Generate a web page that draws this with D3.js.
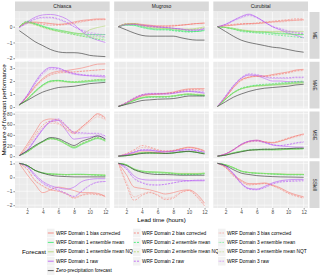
<!DOCTYPE html>
<html><head><meta charset="utf-8">
<script src="https://cdn.jsdelivr.net/npm/d3@7"></script>
<style>body{margin:0;background:#fff}svg{display:block;font-family:"Liberation Sans",Arial,Helvetica,sans-serif}</style>
</head><body><svg id="c" width="320" height="276"></svg>
<script>
// ---------- data ----------
const hours = [1,2,3,4,5,6,7,8,9,10,11,12];
const basins = ["Chiasca","Mugroso","Curubital"];
const metrics = ["ME","MAE","MSE","SSkill"];
const seriesLabels = [
 "WRF Domain 1 bias corrected","WRF Domain 1 ensemble mean","WRF Domain 1 ensemble mean NQT","WRF Domain 1 raw",
 "WRF Domain 2 bias corrected","WRF Domain 2 ensemble mean","WRF Domain 2 ensemble mean NQT","WRF Domain 2 raw",
 "WRF Domain 3 bias corrected","WRF Domain 3 ensemble mean","WRF Domain 3 ensemble mean NQT","WRF Domain 3 raw",
 "Zero-precipitation forecast"];
const seriesTypes = ["bc","em","nqt","raw","bc","em","nqt","raw","bc","em","nqt","raw","zero"];
const seriesDomains = [1,1,1,1,2,2,2,2,3,3,3,3,0];
const ticksME = [-2,-1,0];
const ticksMAE = [0,1,2,3];
const ticksMSE = [0,20,40,60,80];
const ticksSSkill = [-2,-1,0,1];
const xTicks = [2,4,6,8,10,12];

// rows: bc1, em1, nqt1, raw1, bc2, em2, nqt2, raw2, bc3, em3, nqt3, raw3, zero
const ME_Chiasca = [
 [0.0,0.25,0.3,0.25,0.2,0.15,0.2,0.3,0.4,0.45,0.5,0.5],
 [0.0,0.3,0.2,0.05,-0.1,-0.2,-0.3,-0.4,-0.45,-0.5,-0.5,-0.5],
 [0.0,0.3,0.15,0.0,-0.15,-0.25,-0.3,-0.4,-0.45,-0.2,-0.05,0.05],
 [-0.05,0.3,0.6,0.75,0.78,0.7,0.5,0.15,-0.3,-0.65,-0.85,-1.0],
 [0.0,0.3,0.25,0.15,0.1,0.1,0.15,0.25,0.35,0.4,0.45,0.45],
 [0.0,0.35,0.2,0.0,-0.15,-0.3,-0.4,-0.5,-0.6,-0.7,-0.8,-0.85],
 [0.0,0.3,0.15,-0.05,-0.2,-0.3,-0.4,-0.5,-0.6,-0.65,-0.75,-0.8],
 [-0.05,0.25,0.5,0.6,0.6,0.5,0.3,0.0,-0.25,-0.45,-0.55,-0.65],
 [0.0,0.2,0.25,0.25,0.2,0.15,0.15,0.2,0.3,0.4,0.45,0.45],
 [0.0,0.25,0.15,0.0,-0.15,-0.25,-0.35,-0.45,-0.55,-0.6,-0.65,-0.7],
 [0.0,0.25,0.1,-0.05,-0.2,-0.3,-0.35,-0.45,-0.5,-0.55,-0.6,-0.6],
 [-0.05,0.2,0.45,0.55,0.55,0.45,0.25,0.0,-0.2,-0.35,-0.45,-0.5],
 [-0.25,-0.6,-0.95,-1.2,-1.45,-1.6,-1.65,-1.65,-1.7,-1.82,-1.87,-1.9]];
const ME_Mugroso = [
 [0.0,0.15,0.2,0.15,0.1,0.05,0.05,0.05,0.1,0.15,0.2,0.25],
 [0.0,0.1,0.1,0.0,-0.1,-0.15,-0.15,-0.2,-0.25,-0.3,-0.3,-0.2],
 [0.0,0.15,0.2,0.1,0.0,-0.05,-0.1,-0.1,-0.15,-0.15,-0.1,0.0],
 [0.0,0.15,0.15,0.1,0.05,0.0,-0.05,-0.1,-0.15,-0.2,-0.2,-0.1],
 [0.0,0.2,0.2,0.1,0.05,0.0,0.0,0.05,0.1,0.15,0.2,0.2],
 [0.0,0.15,0.1,-0.05,-0.15,-0.2,-0.2,-0.25,-0.3,-0.35,-0.3,-0.25],
 [0.0,0.2,0.2,0.05,-0.05,-0.1,-0.1,-0.15,-0.2,-0.2,-0.15,-0.05],
 [0.0,0.15,0.15,0.05,0.0,-0.05,-0.05,-0.1,-0.15,-0.25,-0.25,-0.15],
 [0.0,0.15,0.15,0.1,0.05,0.05,0.05,0.1,0.1,0.15,0.2,0.2],
 [0.0,0.1,0.05,-0.05,-0.15,-0.2,-0.2,-0.25,-0.3,-0.3,-0.3,-0.25],
 [0.0,0.15,0.15,0.05,-0.05,-0.1,-0.1,-0.15,-0.2,-0.2,-0.15,-0.1],
 [0.0,0.1,0.15,0.1,0.05,0.0,-0.05,-0.1,-0.15,-0.2,-0.2,-0.15],
 [0.0,-0.2,-0.4,-0.55,-0.6,-0.6,-0.6,-0.6,-0.7,-0.8,-0.85,-0.85]];
const ME_Curubital = [
 [0.0,0.05,0.1,0.15,0.2,0.2,0.25,0.3,0.35,0.4,0.42,0.45],
 [0.0,-0.05,-0.15,-0.25,-0.3,-0.35,-0.35,-0.4,-0.45,-0.45,-0.5,-0.5],
 [0.0,-0.05,-0.1,-0.2,-0.25,-0.3,-0.3,-0.3,-0.3,-0.3,-0.3,-0.3],
 [0.0,0.15,0.4,0.65,0.8,0.6,0.3,0.0,-0.2,-0.4,-0.55,-0.7],
 [0.0,0.1,0.15,0.2,0.2,0.25,0.3,0.35,0.4,0.45,0.5,0.5],
 [0.0,-0.05,-0.15,-0.3,-0.35,-0.4,-0.45,-0.5,-0.55,-0.6,-0.65,-0.7],
 [0.0,-0.05,-0.15,-0.25,-0.3,-0.35,-0.35,-0.4,-0.45,-0.5,-0.5,-0.5],
 [0.0,0.15,0.4,0.6,0.75,0.6,0.3,0.0,-0.15,-0.3,-0.4,-0.45],
 [0.0,0.05,0.1,0.15,0.15,0.2,0.25,0.3,0.3,0.35,0.4,0.4],
 [0.0,-0.05,-0.1,-0.2,-0.3,-0.3,-0.35,-0.4,-0.4,-0.45,-0.5,-0.5],
 [0.0,-0.05,-0.1,-0.2,-0.25,-0.3,-0.3,-0.35,-0.35,-0.4,-0.4,-0.4],
 [0.0,0.1,0.35,0.55,0.7,0.55,0.3,0.05,-0.1,-0.25,-0.35,-0.4],
 [0.0,-0.3,-0.6,-0.85,-1.0,-1.1,-1.2,-1.3,-1.35,-1.45,-1.55,-1.62]];

const MAE_Chiasca = [
 [0.15,0.8,1.6,2.2,2.6,2.75,2.8,2.9,3.0,3.15,3.3,3.32],
 [0.15,0.6,1.2,1.7,2.0,2.05,1.95,1.9,1.9,1.95,2.0,2.0],
 [0.15,0.6,1.2,1.7,2.0,2.05,1.95,1.9,1.95,2.0,2.1,2.15],
 [0.15,0.9,1.9,2.7,3.05,3.0,2.75,2.55,2.45,2.4,2.35,2.3],
 [0.15,0.8,1.5,2.1,2.5,2.65,2.7,2.7,2.75,2.8,2.85,2.9],
 [0.15,0.6,1.2,1.7,2.0,2.05,2.0,1.95,2.0,2.05,2.1,2.1],
 [0.15,0.6,1.15,1.65,1.95,2.0,1.95,1.95,2.0,2.05,2.1,2.1],
 [0.15,0.9,1.8,2.6,3.0,2.95,2.75,2.6,2.5,2.45,2.45,2.4],
 [0.15,0.75,1.5,2.1,2.45,2.6,2.65,2.7,2.75,2.8,2.85,2.9],
 [0.15,0.55,1.15,1.65,1.95,2.0,1.95,1.9,1.95,2.0,2.05,2.05],
 [0.15,0.55,1.1,1.6,1.9,1.95,1.9,1.9,1.95,2.0,2.05,2.05],
 [0.15,0.85,1.75,2.5,2.9,2.85,2.65,2.5,2.45,2.4,2.4,2.35],
 [0.2,0.5,0.85,1.15,1.35,1.5,1.55,1.6,1.7,1.8,1.85,1.9]];
const MAE_Mugroso = [
 [0.05,0.3,0.6,0.85,0.95,1.0,1.05,1.15,1.3,1.4,1.42,1.42],
 [0.05,0.25,0.5,0.7,0.8,0.8,0.8,0.85,0.95,1.0,0.95,0.9],
 [0.05,0.25,0.5,0.7,0.8,0.8,0.8,0.85,0.95,1.0,0.95,0.9],
 [0.05,0.3,0.65,0.9,1.0,1.0,1.0,1.05,1.15,1.2,1.15,1.05],
 [0.05,0.35,0.7,0.95,1.0,1.0,1.05,1.1,1.25,1.35,1.35,1.3],
 [0.05,0.25,0.5,0.7,0.75,0.75,0.75,0.8,0.9,0.95,0.9,0.85],
 [0.05,0.25,0.55,0.75,0.8,0.8,0.8,0.85,0.95,1.0,1.0,0.95],
 [0.05,0.35,0.7,0.95,1.05,1.05,1.05,1.1,1.2,1.25,1.2,1.15],
 [0.05,0.3,0.6,0.85,0.95,1.0,1.0,1.1,1.2,1.3,1.3,1.3],
 [0.05,0.25,0.5,0.7,0.75,0.8,0.8,0.85,0.9,0.95,0.9,0.9],
 [0.05,0.25,0.5,0.7,0.8,0.8,0.8,0.85,0.95,1.0,0.95,0.9],
 [0.05,0.3,0.65,0.9,1.0,1.0,1.0,1.05,1.15,1.2,1.15,1.1],
 [0.05,0.2,0.35,0.5,0.55,0.6,0.62,0.65,0.75,0.85,0.85,0.85]];
const MAE_Curubital = [
 [0.05,0.7,1.5,2.1,2.3,2.4,2.4,2.5,2.6,2.7,2.85,2.9],
 [0.05,0.6,1.1,1.4,1.55,1.65,1.65,1.7,1.75,1.8,1.85,1.9],
 [0.05,0.6,1.1,1.4,1.55,1.6,1.65,1.7,1.7,1.75,1.8,1.85],
 [0.05,0.8,1.6,2.2,2.45,2.4,2.2,2.0,2.0,1.95,1.95,1.95],
 [0.05,0.75,1.5,2.05,2.3,2.35,2.35,2.45,2.55,2.65,2.8,2.85],
 [0.05,0.6,1.1,1.45,1.6,1.7,1.75,1.8,1.85,1.9,1.95,2.0],
 [0.05,0.6,1.1,1.4,1.55,1.65,1.7,1.75,1.8,1.85,1.9,1.95],
 [0.05,0.85,1.65,2.25,2.55,2.5,2.35,2.25,2.25,2.25,2.3,2.3],
 [0.05,0.7,1.45,2.0,2.25,2.35,2.35,2.4,2.5,2.6,2.75,2.8],
 [0.05,0.6,1.05,1.4,1.55,1.65,1.7,1.75,1.8,1.85,1.9,1.95],
 [0.05,0.6,1.05,1.4,1.55,1.6,1.65,1.7,1.75,1.8,1.85,1.9],
 [0.05,0.8,1.6,2.2,2.5,2.45,2.3,2.2,2.2,2.2,2.25,2.25],
 [0.05,0.4,0.75,1.0,1.2,1.35,1.45,1.5,1.55,1.6,1.7,1.75]];

const MSE_Chiasca = [
 [1,22,45,66,70,68,56,45,55,67,80,72],
 [1,8,18,27,33,30,22,15,22,28,33,28],
 [1,8,18,27,33,30,22,16,23,29,34,29],
 [1,10,30,50,65,67,48,32,34,36,38,33],
 [1,18,40,58,66,62,52,43,55,68,78,70],
 [1,8,19,28,34,31,24,17,24,30,35,30],
 [1,8,18,27,33,31,23,17,24,30,35,30],
 [1,12,32,52,66,70,58,45,44,43,43,38],
 [1,16,36,54,62,60,50,42,52,64,74,68],
 [1,8,18,27,32,30,23,17,23,29,34,29],
 [1,8,18,27,32,30,23,17,23,29,33,28],
 [1,11,30,50,64,68,56,43,42,42,41,37],
 [1,10,20,28,35,33,26,20,28,33,38,32]];
const MSE_Mugroso = [
 [0,2,5,8,8,7,8,10,14,17,15,10],
 [0,1,3,6,6,5,5,6,8,9,7,5],
 [0,1,3,6,6,5,5,6,8,9,7,5],
 [0,3,7,11,11,9,8,9,11,12,10,7],
 [0,5,12,20,17,12,10,11,14,16,14,10],
 [0,1,3,6,6,5,5,6,8,9,7,5],
 [0,1,4,6,6,5,5,6,8,9,8,5],
 [0,3,8,12,12,10,9,10,12,13,11,8],
 [0,4,10,16,15,11,9,10,13,16,14,9],
 [0,1,3,6,6,5,5,6,7,8,7,5],
 [0,1,3,6,6,5,5,6,8,9,7,5],
 [0,3,7,11,11,9,8,9,11,12,10,7],
 [0,1,3,5,6,6,5,6,8,9,7,4]];
const MSE_Curubital = [
 [0,4,12,22,28,30,27,25,28,33,38,42],
 [0,2,6,9,11,12,12,12,12,13,13,14],
 [0,2,6,9,11,12,12,12,12,13,13,14],
 [0,4,12,22,28,30,26,21,19,18,17,17],
 [0,4,12,21,27,29,27,26,29,34,38,41],
 [0,2,6,9,12,13,13,13,13,14,14,15],
 [0,2,6,9,11,12,13,13,13,14,14,15],
 [0,4,12,22,28,29,26,22,20,22,25,27],
 [0,4,11,20,26,28,26,25,28,32,36,40],
 [0,2,6,9,11,12,12,12,13,13,14,14],
 [0,2,6,9,11,12,12,12,12,13,13,14],
 [0,4,11,21,27,28,25,21,20,21,24,26],
 [0,2,5,8,11,12,13,13,14,14,15,15]];

const SSkill_Chiasca = [
 [1.0,0.2,-0.5,-1.1,-0.9,-0.7,-0.8,-0.95,-1.1,-1.1,-1.15,-1.4],
 [1.0,0.85,0.5,0.32,0.25,0.22,0.2,0.22,0.22,0.2,0.18,0.15],
 [1.0,0.85,0.5,0.32,0.25,0.22,0.2,0.2,0.2,0.2,0.18,0.18],
 [1.0,0.8,0.2,-0.3,-0.6,-0.75,-0.85,-0.7,-0.3,-0.15,-0.1,-0.1],
 [1.0,0.6,-0.2,-0.6,-0.9,-1.0,-1.2,-1.5,-1.3,-1.2,-1.25,-1.35],
 [1.0,0.85,0.5,0.3,0.22,0.2,0.18,0.2,0.2,0.18,0.15,0.12],
 [1.0,0.85,0.5,0.3,0.22,0.2,0.18,0.2,0.2,0.18,0.15,0.12],
 [1.0,0.75,0.1,-0.4,-0.7,-0.9,-1.15,-1.4,-1.0,-0.6,-0.35,-0.3],
 [1.0,0.55,-0.25,-0.65,-0.9,-1.0,-1.15,-1.45,-1.25,-1.15,-1.2,-1.3],
 [1.0,0.85,0.5,0.3,0.24,0.21,0.19,0.21,0.21,0.19,0.16,0.14],
 [1.0,0.85,0.5,0.31,0.24,0.21,0.19,0.2,0.2,0.19,0.17,0.15],
 [1.0,0.75,0.1,-0.45,-0.75,-0.95,-1.2,-1.35,-0.95,-0.55,-0.35,-0.3],
 [1.0,0.85,0.5,0.3,0.15,0.08,0.05,0.03,0.03,0.03,0.03,0.03]];
const SSkill_Mugroso = [
 [1.0,0.2,-0.7,-0.8,-0.9,-1.05,-1.2,-1.1,-0.95,-0.9,-1.2,-1.85],
 [1.0,0.9,0.6,0.45,0.4,0.38,0.35,0.3,0.25,0.25,0.25,0.3],
 [1.0,0.9,0.6,0.45,0.4,0.38,0.35,0.3,0.28,0.28,0.28,0.3],
 [1.0,0.7,0.1,-0.15,-0.2,-0.2,-0.2,-0.2,-0.2,-0.25,-0.25,-0.25],
 [1.0,-0.5,-1.65,-1.3,-1.1,-1.3,-1.6,-1.5,-1.1,-0.95,-1.4,-2.05],
 [1.0,0.9,0.55,0.4,0.35,0.3,0.3,0.25,0.2,0.2,0.2,0.25],
 [1.0,0.9,0.55,0.4,0.35,0.35,0.3,0.28,0.25,0.25,0.25,0.28],
 [1.0,0.6,-0.1,-0.4,-0.55,-0.55,-0.5,-0.4,-0.3,-0.25,-0.2,-0.2],
 [1.0,-0.3,-1.4,-1.2,-1.05,-1.25,-1.5,-1.4,-1.05,-0.95,-1.3,-1.95],
 [1.0,0.9,0.55,0.42,0.37,0.33,0.32,0.27,0.22,0.22,0.22,0.27],
 [1.0,0.9,0.57,0.42,0.37,0.35,0.32,0.28,0.26,0.26,0.26,0.29],
 [1.0,0.6,-0.05,-0.35,-0.5,-0.55,-0.5,-0.4,-0.3,-0.25,-0.22,-0.2],
 [1.0,0.85,0.55,0.35,0.25,0.2,0.2,0.18,0.15,0.15,0.15,0.15]];
const SSkill_Curubital = [
 [1.0,0.75,0.2,-0.2,-0.45,-0.45,-0.4,-0.55,-0.75,-1.05,-1.25,-1.4],
 [1.0,0.9,0.7,0.45,0.35,0.3,0.28,0.25,0.22,0.2,0.2,0.2],
 [1.0,0.9,0.7,0.45,0.35,0.3,0.28,0.25,0.25,0.22,0.22,0.22],
 [1.0,0.8,0.3,-0.4,-0.8,-0.85,-0.65,-0.4,-0.25,-0.18,-0.15,-0.15],
 [1.0,0.7,0.1,-0.3,-0.55,-0.5,-0.45,-0.6,-0.85,-1.15,-1.35,-1.5],
 [1.0,0.9,0.68,0.43,0.33,0.28,0.26,0.23,0.2,0.18,0.18,0.18],
 [1.0,0.9,0.69,0.44,0.34,0.29,0.27,0.24,0.23,0.21,0.21,0.2],
 [1.0,0.8,0.25,-0.45,-0.85,-0.9,-0.75,-0.5,-0.35,-0.3,-0.28,-0.25],
 [1.0,0.7,0.15,-0.25,-0.5,-0.5,-0.45,-0.6,-0.8,-1.1,-1.3,-1.45],
 [1.0,0.9,0.69,0.44,0.34,0.29,0.27,0.24,0.21,0.19,0.19,0.19],
 [1.0,0.9,0.7,0.45,0.35,0.3,0.27,0.25,0.24,0.21,0.21,0.21],
 [1.0,0.8,0.25,-0.45,-0.8,-0.85,-0.7,-0.45,-0.3,-0.25,-0.22,-0.2],
 [1.0,0.85,0.55,0.3,0.2,0.12,0.08,0.05,0.03,0.02,0.01,0.0]];

// ---------- assembly ----------
const panelData = {
 ME:[ME_Chiasca,ME_Mugroso,ME_Curubital],
 MAE:[MAE_Chiasca,MAE_Mugroso,MAE_Curubital],
 MSE:[MSE_Chiasca,MSE_Mugroso,MSE_Curubital],
 SSkill:[SSkill_Chiasca,SSkill_Mugroso,SSkill_Curubital]};
const rowTicks = {ME:ticksME,MAE:ticksMAE,MSE:ticksMSE,SSkill:ticksSSkill};

const typeColor = {bc:"#F8766D",em:"#2CEB66",nqt:"#ADD66A",raw:"#B552F5",zero:"#333333"};
const domainDash = {0:null,1:null,2:"2,1.2",3:"0.6,0.9"};

const svg = d3.select("#c");
const L = 15, R = 308, T = 12, B = 208, gapX = 4.5, gapY = 3;
const colW = (R - L - 2*gapX)/3, rowH = (B - T - 3*gapY)/4;
const fs = 4.8;

// top strips
basins.forEach((b,ci)=>{
  const x0 = L + ci*(colW+gapX);
  svg.append("rect").attr("x",x0).attr("y",1.5).attr("width",colW).attr("height",10).attr("fill","#D9D9D9");
  svg.append("text").attr("x",x0+colW/2).attr("y",6.5).attr("dy","0.35em").attr("text-anchor","middle")
    .attr("font-size",5).attr("fill","#1A1A1A").text(b);
});

metrics.forEach((m,ri)=>{
  const y0 = T + ri*(rowH+gapY), y1 = y0 + rowH;
  const all = panelData[m].flat(2);
  const ext = d3.extent(all), pad = (ext[1]-ext[0])*0.05;
  const y = d3.scaleLinear().domain([ext[0]-pad, ext[1]+pad]).range([y1,y0]);
  const tks = rowTicks[m];
  const step = tks[1]-tks[0];
  const minors = [];
  [tks[0]-step].concat(tks).forEach(t=>{const v=t+step/2; if(v>y.domain()[0]&&v<y.domain()[1]) minors.push(v);});

  // right strip
  svg.append("rect").attr("x",R+1.5).attr("y",y0).attr("width",10).attr("height",rowH).attr("fill","#D9D9D9");
  svg.append("text").attr("transform",`translate(${R+6.5},${(y0+y1)/2}) rotate(90)`).attr("dy","0.35em")
    .attr("text-anchor","middle").attr("font-size",5).attr("fill","#1A1A1A").text(m);

  basins.forEach((b,ci)=>{
    const x0 = L + ci*(colW+gapX);
    const x = d3.scaleLinear().domain([0.45,12.55]).range([x0,x0+colW]);
    const g = svg.append("g");
    g.append("rect").attr("x",x0).attr("y",y0).attr("width",colW).attr("height",rowH).attr("fill","#EBEBEB");
    // minor grid
    minors.forEach(v=>g.append("line").attr("x1",x0).attr("x2",x0+colW).attr("y1",y(v)).attr("y2",y(v)).attr("stroke","#fff").attr("stroke-width",0.3));
    [1,3,5,7,9,11].forEach(h=>g.append("line").attr("x1",x(h)).attr("x2",x(h)).attr("y1",y0).attr("y2",y1).attr("stroke","#fff").attr("stroke-width",0.3));
    // major grid
    tks.forEach(v=>g.append("line").attr("x1",x0).attr("x2",x0+colW).attr("y1",y(v)).attr("y2",y(v)).attr("stroke","#fff").attr("stroke-width",0.6));
    xTicks.forEach(h=>g.append("line").attr("x1",x(h)).attr("x2",x(h)).attr("y1",y0).attr("y2",y1).attr("stroke","#fff").attr("stroke-width",0.6));

    const line = d3.line().x((d,i)=>x(hours[i])).y(d=>y(d)).curve(d3.curveMonotoneX);
    panelData[m][ci].forEach((vals,si)=>{
      g.append("path").attr("d",line(vals)).attr("fill","none")
        .attr("stroke",typeColor[seriesTypes[si]]).attr("stroke-width",0.65)
        .attr("stroke-opacity",seriesTypes[si]==="zero"?0.95:0.85)
        .attr("stroke-dasharray",domainDash[seriesDomains[si]]);
    });

    if(ci===0){
      const ax = svg.append("g").attr("transform",`translate(${x0},0)`)
        .call(d3.axisLeft(y).tickValues(tks).tickSize(1.6).tickPadding(1).tickFormat(d3.format("d")));
      ax.select(".domain").remove();
      ax.selectAll("line").attr("stroke","#333").attr("stroke-width",0.5);
      ax.selectAll("text").attr("font-size",fs).attr("fill","#4D4D4D").attr("font-family",null);
    }
    if(ri===3){
      const ax = svg.append("g").attr("transform",`translate(0,${y1})`)
        .call(d3.axisBottom(x).tickValues(xTicks).tickSize(1.6).tickPadding(1));
      ax.select(".domain").remove();
      ax.selectAll("line").attr("stroke","#333").attr("stroke-width",0.5);
      ax.selectAll("text").attr("font-size",fs).attr("fill","#4D4D4D").attr("font-family",null);
    }
  });
});

// axis titles
svg.append("text").attr("x",(L+R)/2).attr("y",220).attr("dy","0.35em").attr("text-anchor","middle")
  .attr("font-size",6.2).attr("fill","#000").text("Lead time (hours)");
svg.append("text").attr("transform",`translate(4,${(T+B)/2}) rotate(-90)`).attr("dy","0.35em").attr("text-anchor","middle")
  .attr("font-size",6.2).attr("fill","#000").text("Measure of forecast performance");

// legend
const legCols = [[0,1,2,3,12],[4,5,6,7],[8,9,10,11]];
const keyX = [47,133,218];
const rowY = [233,242.4,251.8,261.2,270.6];
svg.append("text").attr("x",22).attr("y",252).attr("dy","0.35em").attr("font-size",6.2).attr("fill","#000").text("Forecast");
legCols.forEach((col,c)=>{
  col.forEach((si,r)=>{
    const kx = keyX[c], ky = rowY[r];
    svg.append("rect").attr("x",kx).attr("y",ky-4.3).attr("width",7.5).attr("height",8.6).attr("fill","#F2F2F2");
    svg.append("line").attr("x1",kx+0.8).attr("x2",kx+6.7).attr("y1",ky).attr("y2",ky)
      .attr("stroke",typeColor[seriesTypes[si]]).attr("stroke-width",0.8)
      .attr("stroke-dasharray",domainDash[seriesDomains[si]]);
    svg.append("text").attr("x",kx+9).attr("y",ky).attr("dy","0.35em").attr("font-size",fs).attr("fill","#000").text(seriesLabels[si]);
  });
});
</script></body></html>
